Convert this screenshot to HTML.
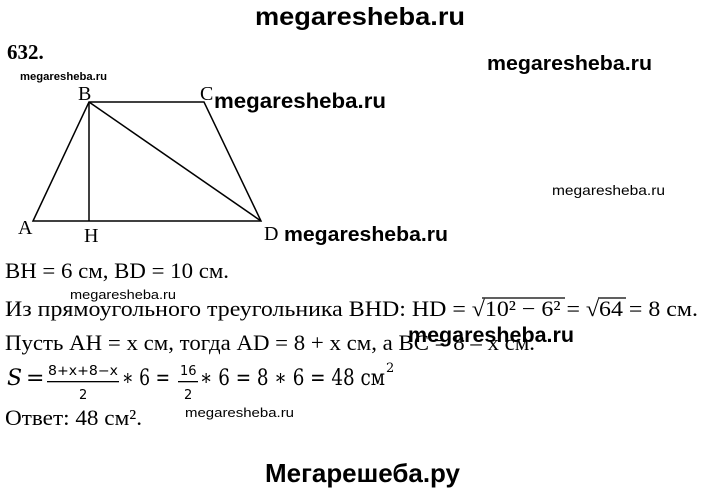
<!DOCTYPE html>
<html><head><meta charset="utf-8"><style>
html,body{margin:0;padding:0;background:#fff;width:720px;height:492px;overflow:hidden}
</style></head><body>
<svg width="720" height="492" viewBox="0 0 720 492" xmlns="http://www.w3.org/2000/svg">
<g font-family="Liberation Sans, sans-serif" font-weight="bold" fill="#000">
<text x="255" y="25" font-size="25" textLength="210" lengthAdjust="spacingAndGlyphs">megaresheba.ru</text>
<text x="487" y="70" font-size="20" textLength="165" lengthAdjust="spacingAndGlyphs">megaresheba.ru</text>
<text x="214" y="108" font-size="21" textLength="172" lengthAdjust="spacingAndGlyphs">megaresheba.ru</text>
<text x="284" y="241" font-size="20" textLength="164" lengthAdjust="spacingAndGlyphs">megaresheba.ru</text>
<text x="408" y="342" font-size="21" textLength="166" lengthAdjust="spacingAndGlyphs">megaresheba.ru</text>
<text x="20" y="80" font-size="11" textLength="87" lengthAdjust="spacingAndGlyphs">megaresheba.ru</text>
<text x="265" y="482" font-size="26" textLength="195" lengthAdjust="spacingAndGlyphs">Мегарешеба.ру</text>
</g>
<g font-family="Liberation Sans, sans-serif" fill="#000">
<text x="552" y="195" font-size="14" textLength="113" lengthAdjust="spacingAndGlyphs">megaresheba.ru</text>
<text x="70" y="299" font-size="13" textLength="106" lengthAdjust="spacingAndGlyphs">megaresheba.ru</text>
<text x="185" y="417" font-size="13" textLength="109" lengthAdjust="spacingAndGlyphs">megaresheba.ru</text>
</g>
<text x="7" y="59" font-family="Liberation Serif, serif" font-weight="bold" font-size="21">632.</text>
<g stroke="#000" stroke-width="1.5" fill="none">
<polygon points="33,221 89,102 204,102 261,221"/>
<line x1="89" y1="102" x2="89" y2="221"/>
<line x1="89" y1="102" x2="261" y2="221"/>
</g>
<g font-family="Liberation Serif, serif" font-size="20" fill="#000">
<text x="78" y="100">B</text>
<text x="200" y="100">C</text>
<text x="18" y="234">A</text>
<text x="84" y="242">H</text>
<text x="264" y="240">D</text>
</g>
<g font-family="Liberation Serif, serif" font-size="22" fill="#000">
<text x="5" y="278" textLength="224" lengthAdjust="spacingAndGlyphs">BH = 6 см, BD = 10 см.</text>
<text x="5" y="316" textLength="693" lengthAdjust="spacingAndGlyphs">Из прямоугольного треугольника BHD: HD = √10² − 6² = √64 = 8 см.</text>
<text x="5" y="350" textLength="530" lengthAdjust="spacingAndGlyphs">Пусть AH = x см, тогда AD = 8 + x см, а BC = 8 – x см.</text>
<text x="5" y="425" textLength="137" lengthAdjust="spacingAndGlyphs">Ответ: 48 см².</text>
</g>
<g stroke="#000" stroke-width="1.2">
<line x1="482" y1="298" x2="565" y2="298"/>
<line x1="598" y1="298" x2="626" y2="298"/>
</g>
<g fill="#000" font-family="DejaVu Serif, serif">
<text x="7" y="385" font-size="22" font-style="italic">S</text>
<text x="26" y="385" font-size="22">=</text>
<text x="48" y="375" font-size="13" textLength="70" lengthAdjust="spacingAndGlyphs" font-family="DejaVu Sans, sans-serif">8+x+8−x</text>
<rect x="47" y="381" width="72" height="1.3"/>
<text x="79" y="399" font-size="13" font-family="DejaVu Sans, sans-serif">2</text>
<text x="122" y="385" font-size="22" textLength="48" lengthAdjust="spacingAndGlyphs">∗ 6 =</text>
<text x="180" y="375" font-size="13" font-family="DejaVu Sans, sans-serif">16</text>
<rect x="178" y="381" width="20" height="1.3"/>
<text x="184" y="399" font-size="13" font-family="DejaVu Sans, sans-serif">2</text>
<text x="200" y="385" font-size="22" textLength="185" lengthAdjust="spacingAndGlyphs">∗ 6 = 8 ∗ 6 = 48 см</text>
<text x="386" y="372" font-size="13">2</text>
</g>
</svg>
</body></html>
